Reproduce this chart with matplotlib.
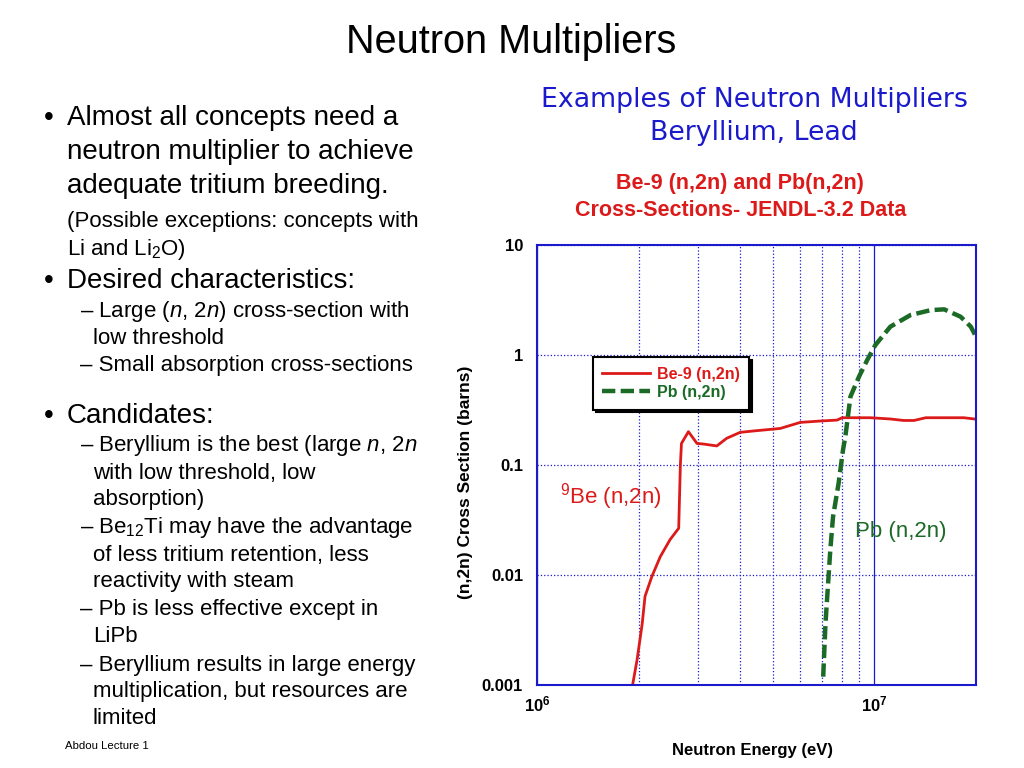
import matplotlib as mpl
mpl.use('Agg')
import matplotlib.pyplot as plt
import matplotlib.ticker as ticker

# ---- data (energy in eV, cross section in barns) ----
BE_E = [1.92e6, 1.98e6, 2.05e6, 2.09e6, 2.19e6, 2.32e6, 2.48e6, 2.63e6, 2.66e6,
        2.68e6, 2.81e6, 2.98e6, 3.12e6, 3.41e6, 3.65e6, 4.0e6, 4.39e6, 5.26e6,
        6.03e6, 6.91e6, 7.75e6, 8.02e6, 9.73e6, 1.115e7, 1.22e7, 1.31e7, 1.42e7,
        1.84e7, 2.0e7]
BE_XS = [0.001, 0.0017, 0.0036, 0.0064, 0.0097, 0.0147, 0.021, 0.0266, 0.10,
         0.157, 0.201, 0.157, 0.155, 0.149, 0.175, 0.198, 0.204, 0.215,
         0.244, 0.251, 0.256, 0.269, 0.269, 0.262, 0.254, 0.254, 0.269,
         0.269, 0.261]

PB_E = [7.05e6, 7.16e6, 7.29e6, 7.40e6, 7.54e6, 7.83e6, 8.07e6, 8.2e6, 8.49e6,
        9.0e6, 9.52e6, 1.006e7, 1.115e7, 1.28e7, 1.47e7, 1.61e7, 1.80e7, 1.93e7, 2.0e7]
PB_XS = [0.00119, 0.0036, 0.0084, 0.0169, 0.0339, 0.068, 0.137, 0.181, 0.418,
         0.635, 0.90, 1.23, 1.81, 2.31, 2.56, 2.6, 2.23, 1.81, 1.47]

Y_TICKS = [0.001, 0.01, 0.1, 1, 10]
Y_TICK_LABELS = ['0.001', '0.01', '0.1', '1', '10']
X_TICKS = [1e6, 1e7]
X_TICK_LABELS = [r'$\mathbf{10^{6}}$', r'$\mathbf{10^{7}}$']

BIG, SMALL = 20, 16
BULLET_LINES = [
    # (x, y, text, size, bullet)
    (67, 118, 'Almost all concepts need a', BIG, True),
    (67, 152, 'neutron multiplier to achieve', BIG, False),
    (67, 186, 'adequate tritium breeding.', BIG, False),
    (67, 221, '(Possible exceptions: concepts with', SMALL, False),
    (67, 249, r'Li and Li$_2$O)', SMALL, False),
    (67, 281, 'Desired characteristics:', BIG, True),
    (80, 312, r'– Large ($\mathit{n}$, 2$\mathit{n}$) cross-section with', SMALL, False),
    (93, 339, 'low threshold', SMALL, False),
    (80, 366, '– Small absorption cross-sections', SMALL, False),
    (67, 416, 'Candidates:', BIG, True),
    (80, 446, r'– Beryllium is the best (large $\mathit{n}$, 2$\mathit{n}$', SMALL, False),
    (93, 473, 'with low threshold, low', SMALL, False),
    (93, 500, 'absorption)', SMALL, False),
    (80, 528, r'– Be$_{12}$Ti may have the advantage', SMALL, False),
    (93, 555, 'of less tritium retention, less', SMALL, False),
    (93, 582, 'reactivity with steam', SMALL, False),
    (80, 610, '– Pb is less effective except in', SMALL, False),
    (93, 637, 'LiPb', SMALL, False),
    (80, 665, '– Beryllium results in large energy', SMALL, False),
    (93, 692, 'multiplication, but resources are', SMALL, False),
    (93, 719, 'limited', SMALL, False),
]

RED = '#dd1a1a'
GREEN = '#1b6a25'
BLUE = '#1a1acc'

plt.rcParams['font.family'] = ['Liberation Sans', 'DejaVu Sans']
plt.rcParams['mathtext.fontset'] = 'custom'
plt.rcParams['mathtext.rm'] = 'Liberation Sans'
plt.rcParams['mathtext.it'] = 'Liberation Sans:italic'
plt.rcParams['mathtext.bf'] = 'Liberation Sans:bold'

W, H = 1024, 768
fig = plt.figure(figsize=(W / 100, H / 100), dpi=100)


def ft(x, y, s, **kw):
    fig.text(x / W, 1 - y / H, s, **kw)


# slide text
ft(511, 42, 'Neutron Multipliers', fontsize=28.5, ha='center', va='center')
ft(754, 100, 'Examples of Neutron Multipliers', fontsize=19.3, color=BLUE,
   ha='center', va='center', family='DejaVu Sans')
ft(754, 133, 'Beryllium, Lead', fontsize=19.3, color=BLUE,
   ha='center', va='center', family='DejaVu Sans')
ft(740, 183, 'Be-9 (n,2n) and Pb(n,2n)', fontsize=15.5, color=RED,
   weight='bold', ha='center', va='center')
ft(741, 210, 'Cross-Sections- JENDL-3.2 Data', fontsize=15.5, color=RED,
   weight='bold', ha='center', va='center')

for x, y, s, size, bullet in BULLET_LINES:
    if bullet:
        ft(44, y, '•', fontsize=size, ha='left', va='center')
    ft(x, y, s, fontsize=size, ha='left', va='center')

ft(65, 746, 'Abdou Lecture 1', fontsize=8.2, ha='left', va='center')

# chart
ax = fig.add_axes([537 / W, 1 - 685 / H, 439 / W, 440 / H])
ax.plot(BE_E, BE_XS, color=RED, lw=2, label='Be-9 (n,2n)')
ax.plot(PB_E, PB_XS, color=GREEN, lw=3.2, linestyle=(0, (3, 1.2)),
        label='Pb (n,2n)')

ax.set_xscale('log')
ax.set_yscale('log')
ax.set_xlim(1e6, 2e7)
ax.set_ylim(0.001, 10)

ax.set_xticks(X_TICKS)
ax.set_xticklabels(X_TICK_LABELS)
ax.xaxis.set_minor_locator(ticker.LogLocator(base=10, subs=range(2, 10)))
ax.xaxis.set_minor_formatter(ticker.NullFormatter())
ax.set_yticks(Y_TICKS)
ax.set_yticklabels(Y_TICK_LABELS)
ax.yaxis.set_minor_locator(ticker.NullLocator())
ax.tick_params(axis='y', which='both', length=0, labelsize=12, pad=10)
ax.tick_params(axis='x', which='both', length=0, labelsize=12, pad=7)
for lab in ax.get_yticklabels():
    lab.set_fontweight('bold')

ax.grid(True, which='major', axis='y', color=BLUE, ls=':', lw=0.9)
ax.grid(True, which='major', axis='x', color=BLUE, ls='-', lw=0.9)
ax.grid(True, which='minor', axis='x', color=BLUE, ls=':', lw=0.9)
ax.set_axisbelow(True)
for sp in ax.spines.values():
    sp.set_color(BLUE)
    sp.set_linewidth(1.5)

ax.set_xlabel('Neutron Energy (eV)', fontsize=12, weight='bold')
ax.xaxis.set_label_coords(0.49, -0.132)
ax.set_ylabel('(n,2n) Cross Section (barns)', fontsize=12.5, weight='bold')
ax.yaxis.set_label_coords(-0.146, 0.461)

leg = ax.legend(loc='upper left', bbox_to_anchor=(0.127, 0.745), borderaxespad=0,
                frameon=True, fancybox=False, shadow={'color': 'black', 'alpha': 1},
                edgecolor='black', framealpha=1, handlelength=3.0,
                prop={'weight': 'bold', 'size': 11.5}, borderpad=0.6,
                labelspacing=0.2, handletextpad=0.4)
leg.get_frame().set_linewidth(1.5)
for txt, col in zip(leg.get_texts(), [RED, GREEN]):
    txt.set_color(col)

ax.text(1.66e6, 0.0512, r'$^{9}$Be (n,2n)', color=RED, fontsize=16,
        ha='center', va='center')
ax.text(1.20e7, 0.0246, 'Pb (n,2n)', color=GREEN, fontsize=16,
        ha='center', va='center')

fig.savefig('out.png', dpi=100)
